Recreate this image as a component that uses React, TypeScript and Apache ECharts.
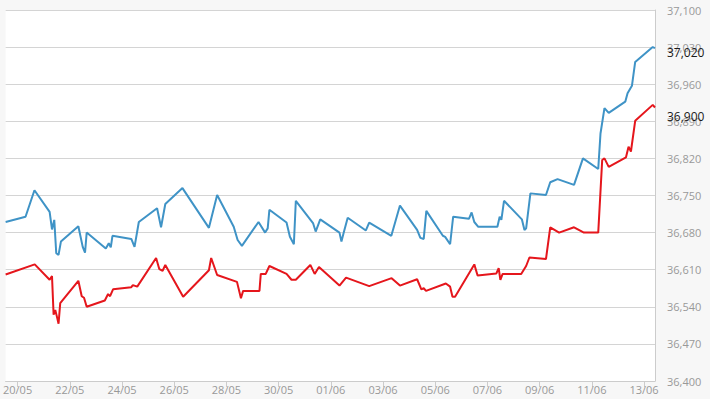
import React, { useEffect, useRef } from "react";
import * as echarts from "echarts";

const X_MIN = "19/05 13:00";
const X_MAX = "13/06 10:05";
const tickLabels = ["20/05", "22/05", "24/05", "26/05", "28/05", "30/05", "01/06", "03/06", "05/06", "07/06", "09/06", "11/06", "13/06"];

const blueTimes = [
  "19/05 13:00", "20/05 07:18", "20/05 15:30", "21/05 05:27", "21/05 07:38", "21/05 09:43", "21/05 11:33", "21/05 13:39", "21/05 15:50",
  "22/05 07:52", "22/05 11:53", "22/05 14:00", "22/05 15:32", "23/05 09:07", "23/05 11:51", "23/05 13:41", "23/05 15:14",
  "24/05 08:33", "24/05 11:31", "24/05 15:28", "25/05 08:15", "25/05 11:54", "25/05 15:49", "26/05 07:35",
  "27/05 07:55", "27/05 15:29", "28/05 06:43", "28/05 10:19", "28/05 14:16", "29/05 05:31", "29/05 11:35", "29/05 13:58", "29/05 15:31",
  "30/05 07:17", "30/05 10:23", "30/05 14:02", "30/05 15:50", "31/05 07:38", "31/05 10:05", "31/05 14:17",
  "01/06 07:58", "01/06 09:47", "01/06 11:53", "01/06 15:32", "02/06 08:13", "02/06 11:18", "03/06 07:38", "03/06 15:34",
  "04/06 07:21", "04/06 10:21", "04/06 13:26", "04/06 15:49", "05/06 07:02", "05/06 09:07", "05/06 13:41", "05/06 16:30",
  "06/06 07:00", "06/06 09:28", "06/06 11:56", "06/06 15:35", "07/06 09:10", "07/06 11:15", "07/06 12:49", "07/06 15:16",
  "08/06 07:40", "08/06 10:03", "08/06 11:36", "08/06 15:31", "09/06 05:50", "09/06 09:45", "09/06 16:29",
  "10/06 07:38", "10/06 15:50", "11/06 05:53", "11/06 07:58", "11/06 11:37", "11/06 15:32",
  "12/06 06:45", "12/06 08:51", "12/06 12:52", "12/06 15:52", "13/06 08:00", "13/06 10:05",
];
const blueValues = [
  36700, 36710, 36760, 36719, 36686, 36704, 36641, 36638, 36663,
  36692, 36653, 36642, 36680, 36650, 36660, 36652, 36674,
  36668, 36653, 36700, 36726, 36690, 36734, 36764,
  36689, 36751, 36691, 36666, 36655, 36700, 36680, 36688, 36723,
  36699, 36672, 36658, 36740, 36698, 36682, 36705,
  36680, 36663, 36680, 36708, 36684, 36699, 36674, 36731,
  36685, 36670, 36668, 36721, 36674, 36672, 36658, 36710,
  36706, 36718, 36700, 36691, 36691, 36710, 36704, 36740,
  36705, 36685, 36688, 36754, 36751, 36775, 36781,
  36770, 36820, 36800, 36867, 36915, 36906,
  36927, 36943, 36957, 37002, 37030, 37028,
];

const redTimes = [
  "19/05 13:00", "20/05 15:46", "21/05 05:27", "21/05 07:38", "21/05 09:06", "21/05 10:38", "21/05 12:12", "21/05 13:39", "21/05 15:12",
  "22/05 07:52", "22/05 10:58", "22/05 13:05", "22/05 15:32", "23/05 08:12", "23/05 11:12", "23/05 13:02", "23/05 15:46",
  "24/05 08:33", "24/05 10:00", "24/05 14:01", "25/05 07:21", "25/05 10:21", "25/05 13:21", "25/05 15:49", "26/05 08:14",
  "27/05 07:55", "27/05 10:00", "27/05 15:29", "28/05 09:43", "28/05 13:22", "28/05 15:22",
  "29/05 06:24", "29/05 07:36", "29/05 12:10", "29/05 15:32", "30/05 07:18", "30/05 11:51", "30/05 15:50",
  "31/05 05:10", "31/05 09:10", "31/05 13:06", "01/06 07:58", "01/06 14:00", "02/06 11:18", "03/06 07:55", "03/06 15:34",
  "04/06 07:21", "04/06 11:15", "04/06 13:26", "04/06 15:32", "05/06 09:46", "05/06 13:41", "05/06 15:52", "05/06 18:14",
  "06/06 11:56", "06/06 14:57", "07/06 08:15", "07/06 10:21", "07/06 11:54", "07/06 13:59",
  "08/06 07:02", "08/06 11:36", "08/06 14:37", "09/06 05:50", "09/06 09:45", "09/06 17:57",
  "10/06 07:38", "10/06 16:45", "11/06 05:53", "11/06 09:32", "11/06 11:37", "11/06 15:32",
  "12/06 07:24", "12/06 09:46", "12/06 11:57", "12/06 15:52", "13/06 08:00", "13/06 10:05",
];
const redValues = [
  36601, 36620, 36591, 36598, 36525, 36534, 36521, 36508, 36547,
  36589, 36560, 36557, 36540, 36552, 36564, 36560, 36573,
  36577, 36581, 36578, 36632, 36611, 36608, 36619, 36559,
  36609, 36632, 36600, 36587, 36556, 36570,
  36570, 36602, 36602, 36617, 36602, 36591, 36591,
  36619, 36602, 36615, 36580, 36595, 36579, 36594, 36580,
  36592, 36573, 36575, 36570, 36584, 36578, 36559, 36559,
  36620, 36599, 36603, 36613, 36591, 36602,
  36602, 36617, 36633, 36630, 36690, 36680,
  36690, 36680, 36680, 36817, 36820, 36804,
  36822, 36842, 36833, 36891, 36921, 36916,
];

const lastLabels = [37020, 36900];
const Y_MIN = 36400;
const Y_MAX = 37100;
const Y_STEP = 70;

const YEAR = 2019;
function parseTime(s: string): number {
  const [datePart, timePart] = s.split(" ");
  const [dd, mm] = datePart.split("/").map(Number);
  const [hh, mi] = (timePart || "00:00").split(":").map(Number);
  return new Date(YEAR, mm - 1, dd, hh, mi).getTime();
}
function fmtDate(v: number): string {
  const d = new Date(v);
  const dd = String(d.getDate()).padStart(2, "0");
  const mm = String(d.getMonth() + 1).padStart(2, "0");
  return dd + "/" + mm;
}
function fmtNum(v: number): string {
  return Math.round(v).toLocaleString("en-US");
}

export default function App() {
  const ref = useRef<HTMLDivElement>(null);
  useEffect(() => {
    if (!ref.current) return;
    const chart = echarts.init(ref.current, null, { renderer: "svg" });
    const tickTimes = tickLabels.map((t) => parseTime(t));
    const labelFont = '"Open Sans", "DejaVu Sans", sans-serif';
    const lastMark = (value: number) => ({
      silent: true,
      symbol: "none",
      lineStyle: { color: "transparent", width: 0, type: "solid" },
      label: {
        show: true,
        position: "end",
        distance: 12,
        formatter: (p: any) => fmtNum(p.value),
        color: "#1a1a1a",
        fontSize: 12,
        fontFamily: labelFont,
      },
      emphasis: { disabled: true },
      data: [{ yAxis: value }],
    });
    chart.setOption({
      animation: false,
      backgroundColor: "#f7f7f7",
      grid: {
        left: -1,
        right: 55,
        top: 10,
        bottom: 18,
        show: true,
        backgroundColor: "#ffffff",
        borderWidth: 0,
      },
      xAxis: {
        type: "value",
        min: parseTime(X_MIN),
        max: parseTime(X_MAX),
        axisLine: { show: true, lineStyle: { color: "#cccccc", width: 1 } },
        axisTick: {
          show: true,
          length: 6,
          customValues: tickTimes,
          lineStyle: { color: "#cccccc" },
        },
        axisLabel: {
          customValues: tickTimes,
          formatter: (v: number) => fmtDate(v),
          color: "#999999",
          fontSize: 11,
          fontFamily: labelFont,
          margin: 3,
        },
        splitLine: { show: false },
      },
      yAxis: {
        type: "value",
        position: "right",
        min: Y_MIN,
        max: Y_MAX,
        interval: Y_STEP,
        axisLine: { show: true, lineStyle: { color: "#cccccc" } },
        axisTick: { show: false },
        axisLabel: {
          formatter: (v: number) => fmtNum(v),
          color: "#999999",
          fontSize: 11,
          fontFamily: labelFont,
          margin: 12,
        },
        splitLine: { show: true, lineStyle: { color: "#d4d4d4", width: 1 } },
      },
      series: [
        {
          type: "line",
          data: blueTimes.map((t, i) => [parseTime(t), blueValues[i]]),
          showSymbol: false,
          lineStyle: { color: "#3f93c6", width: 2 },
          itemStyle: { color: "#3f93c6" },
          markLine: lastMark(lastLabels[0]),
        },
        {
          type: "line",
          data: redTimes.map((t, i) => [parseTime(t), redValues[i]]),
          showSymbol: false,
          lineStyle: { color: "#e5161c", width: 2 },
          itemStyle: { color: "#e5161c" },
          markLine: lastMark(lastLabels[1]),
        },
      ],
    });
    return () => chart.dispose();
  }, []);
  return (
    <div
      ref={ref}
      style={{ position: "absolute", left: 0, top: 0, width: 710, height: 399 }}
    />
  );
}
